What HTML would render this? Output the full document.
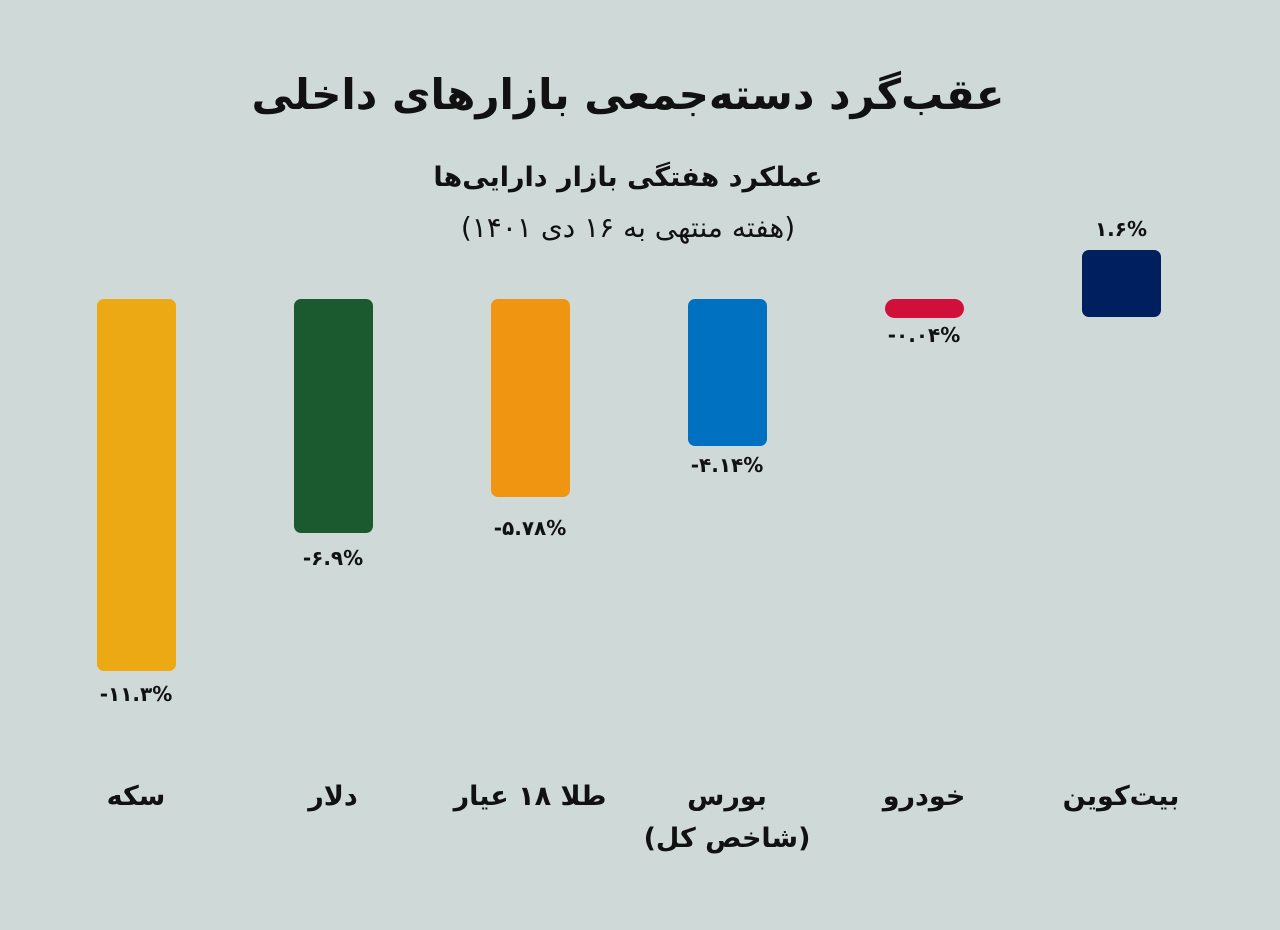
<!DOCTYPE html>
<html><head><meta charset="utf-8">
<style>
body{margin:0;width:1280px;height:930px;background:#cfdad8;position:relative;overflow:hidden;font-family:"DejaVu Sans","Liberation Sans",sans-serif;color:#111}
.t{position:absolute;text-align:center;white-space:nowrap;direction:rtl}
.bar{position:absolute;width:79px;border-radius:7px}
.v{position:absolute;width:140px;text-align:center;font-weight:bold;font-size:20px;direction:ltr}
.c{position:absolute;width:220px;text-align:center;font-weight:bold;font-size:27px;direction:rtl;line-height:42px}
</style></head><body>
<div class="t" style="left:0;width:1256px;top:70px;font-size:42px;font-weight:bold">عقب‌گرد دسته‌جمعی بازارهای داخلی</div>
<div class="t" style="left:0;width:1256px;top:162px;font-size:27px;font-weight:bold">عملکرد هفتگی بازار دارایی‌ها</div>
<div class="t" style="left:0;width:1256px;top:211px;font-size:28px">(هفته منتهی به ۱۶ دی ۱۴۰۱)</div>

<div class="bar" style="left:97px;top:299px;height:372px;background:#eda914"></div>
<div class="bar" style="left:294px;top:299px;height:234px;background:#1b5a2e"></div>
<div class="bar" style="left:491px;top:299px;height:198px;background:#ef9512"></div>
<div class="bar" style="left:688px;top:299px;height:147px;background:#0070c0"></div>
<div class="bar" style="left:885px;top:299px;height:19px;border-radius:10px;background:#d0103a"></div>
<div class="bar" style="left:1082px;top:250px;height:67px;background:#001f5f"></div>

<div class="v" style="left:66px;top:682px">-۱۱.۳%</div>
<div class="v" style="left:263px;top:546px">-۶.۹%</div>
<div class="v" style="left:460px;top:516px">-۵.۷۸%</div>
<div class="v" style="left:657px;top:453px">-۴.۱۴%</div>
<div class="v" style="left:854px;top:323px">-۰.۰۴%</div>
<div class="v" style="left:1051px;top:217px">۱.۶%</div>

<div class="c" style="left:26px;top:776px">سکه</div>
<div class="c" style="left:223px;top:776px">دلار</div>
<div class="c" style="left:420px;top:776px">طلا ۱۸ عیار</div>
<div class="c" style="left:617px;top:776px">بورس<br>(شاخص کل)</div>
<div class="c" style="left:814px;top:776px">خودرو</div>
<div class="c" style="left:1011px;top:776px">بیت‌کوین</div>
</body></html>
